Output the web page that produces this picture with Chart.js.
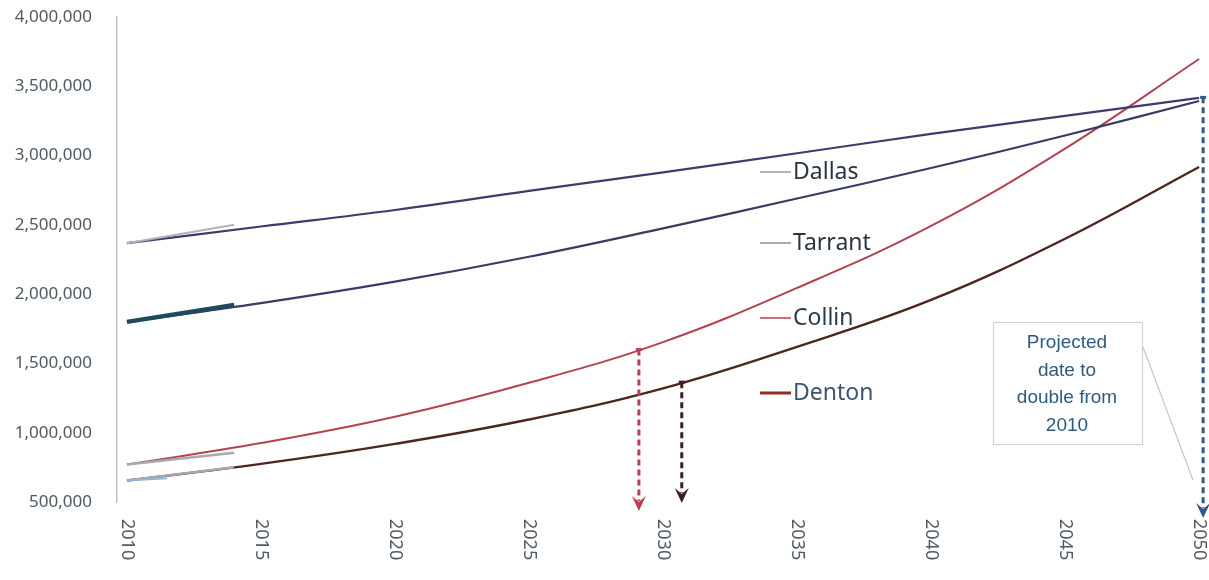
<!DOCTYPE html>
<html>
<head>
<meta charset="utf-8">
<script src="https://cdn.jsdelivr.net/npm/chart.js@4/dist/chart.umd.min.js"></script>
<style>
  html, body { margin: 0; padding: 0; background: #fff; }
  #wrap { width: 1209px; height: 580px; position: relative; }
</style>
</head>
<body>
<div id="wrap"><canvas id="myChart" width="1209" height="580"></canvas></div>
<script>
// projection years (x axis ticks)
const years = [2010, 2015, 2020, 2025, 2030, 2035, 2040, 2045, 2050]

// county projections
const dallas  = [2368000, 2488000, 2607000, 2745000, 2879000, 3017000, 3156000, 3286000, 3416000]
const tarrant = [1800000, 1935000, 2090000, 2270000, 2475000, 2690000, 2910000, 3145000, 3394000]
const collin  = [770000, 925000, 1115000, 1360000, 1654000, 2045000, 2492000, 3050000, 3697000]
const denton  = [655000, 775000, 919000, 1095000, 1320000, 1620000, 1958000, 2400000, 2918000]

// short estimate lines at the start
const histYears = [2010, 2014]
const dallasHist  = [2368000, 2500000]
const tarrantHist = [1800000, 1922000]
const collinHist  = [770000, 855000]
const dentonHist  = [655000, 750000]
const dentonEarlyYears = [2010, 2011.5]
const dentonEarly = [655000, 672000]

// y axis ticks
const yTicks = [500000, 1000000, 1500000, 2000000, 2500000, 3000000, 3500000, 4000000]

// year each county doubles, with the value where the arrow starts
const doubleMarks = [
    { year: 2029.1, from: 1600000, color: '#b5404f' },
    { year: 2030.7, from: 1365000, color: '#3b1e22' },
    { year: 2050.15, from: 3420000, color: '#2b5b86' }
]

const labelNames = ['Dallas', 'Tarrant', 'Collin', 'Denton']
const boxLines = ['Projected', 'date to', 'double from', '2010']

function pts(xs, ys) {
    return xs.map((x, i) => ({ x: x, y: ys[i] }))
}

function arrow(ctx, x, y0, y1, color) {
    ctx.save()
    ctx.strokeStyle = color
    ctx.fillStyle = color
    ctx.lineWidth = 3
    // little tee on the line
    ctx.beginPath()
    ctx.moveTo(x - 3, y0)
    ctx.lineTo(x + 3, y0)
    ctx.stroke()
    ctx.setLineDash([6, 4])
    ctx.beginPath()
    ctx.moveTo(x, y0)
    ctx.lineTo(x, y1 - 10)
    ctx.stroke()
    ctx.setLineDash([])
    ctx.beginPath()
    ctx.moveTo(x, y1)
    ctx.lineTo(x - 7, y1 - 15)
    ctx.lineTo(x, y1 - 9)
    ctx.lineTo(x + 7, y1 - 15)
    ctx.closePath()
    ctx.fill()
    ctx.restore()
}

// rotated year labels, inline labels, arrows and the note box
const extras = {
    id: 'extras',
    afterDraw(chart) {
        const ctx = chart.ctx
        const xs = chart.scales.x
        const ys = chart.scales.y

        ctx.save()
        ctx.fillStyle = '#4f5a64'
        ctx.font = '18px "Noto Sans"'
        ctx.textAlign = 'left'
        ctx.textBaseline = 'middle'
        years.forEach(yr => {
            const px = xs.getPixelForValue(yr)
            ctx.save()
            ctx.translate(px, 519)
            ctx.rotate(Math.PI / 2)
            ctx.fillText(String(yr), 0, 0)
            ctx.restore()
        })
        ctx.restore()

        // inline series labels
        const lab = [
            { y: 172, line: '#9a9a9e', text: '#2b3542', w: 1.5 },
            { y: 243, line: '#8e8e94', text: '#2b3542', w: 1.5 },
            { y: 318, line: '#d0707e', text: '#2b3a4c', w: 2 },
            { y: 393, line: '#8e2b22', text: '#3b5570', w: 3 }
        ]
        ctx.save()
        ctx.font = '23px "Noto Sans"'
        ctx.textBaseline = 'middle'
        ctx.textAlign = 'left'
        lab.forEach((l, i) => {
            ctx.strokeStyle = l.line
            ctx.lineWidth = l.w
            ctx.beginPath()
            ctx.moveTo(760, l.y)
            ctx.lineTo(791, l.y)
            ctx.stroke()
            ctx.fillStyle = l.text
            ctx.fillText(labelNames[i], 793, l.y)
        })
        ctx.restore()

        // doubling arrows
        doubleMarks.forEach(m => {
            const x = xs.getPixelForValue(m.year)
            const y0 = ys.getPixelForValue(m.from)
            const y1 = m.year > 2049 ? 518 : (m.year < 2030 ? 511 : 503)
            arrow(ctx, x, y0, y1, m.color)
        })

        // note box with leader line
        ctx.save()
        ctx.strokeStyle = '#c4c8cc'
        ctx.lineWidth = 1.2
        ctx.beginPath()
        ctx.moveTo(1143, 347)
        ctx.lineTo(1193, 480)
        ctx.stroke()
        ctx.fillStyle = '#ffffff'
        ctx.fillRect(993, 322, 149, 122)
        ctx.strokeStyle = '#cfd3d6'
        ctx.strokeRect(993.5, 322.5, 149, 122)
        ctx.fillStyle = '#2f5a80'
        ctx.font = '19px "Liberation Sans"'
        ctx.textAlign = 'center'
        ctx.textBaseline = 'middle'
        boxLines.forEach((t, i) => {
            ctx.fillText(t, 1067, 343 + i * 27.6)
        })
        ctx.restore()
    }
}

const ctx = document.getElementById('myChart').getContext('2d')
const mychart = new Chart(ctx, {
    type: 'line',
    data: {
        datasets: [
            { data: pts(dentonEarlyYears, dentonEarly), borderColor: '#8fb8d6', borderWidth: 2 },
            { data: pts(histYears, dallasHist), borderColor: '#b4b4b8', borderWidth: 2 },
            { data: pts(histYears, tarrantHist), borderColor: '#1f4a5e', borderWidth: 4.5 },
            { data: pts(histYears, collinHist), borderColor: '#a9a9b0', borderWidth: 2.5 },
            { data: pts(histYears, dentonHist), borderColor: '#a8a8ac', borderWidth: 2.5 },
            { data: pts(years, dallas), borderColor: '#3e3c6c', borderWidth: 2.2, tension: 0.4 },
            { data: pts(years, tarrant), borderColor: '#3b3b66', borderWidth: 2.2, tension: 0.4 },
            { data: pts(years, collin), borderColor: '#b3434f', borderWidth: 2, tension: 0.4 },
            { data: pts(years, denton), borderColor: '#4e2620', borderWidth: 2.4, tension: 0.4 }
        ]
    },
    options: {
        responsive: false,
        animation: false,
        layout: { padding: { top: 17, right: 4, left: 0, bottom: 0 } },
        elements: { point: { radius: 0 } },
        plugins: { legend: { display: false }, tooltip: { enabled: false } },
        scales: {
            x: {
                type: 'linear',
                min: 2009.63,
                max: 2050.22,
                grid: { display: false },
                border: { display: false },
                ticks: { display: false },
                afterBuildTicks: s => { s.ticks = years.map(v => ({ value: v })) },
                afterFit: s => { s.height = 78 }
            },
            y: {
                min: 500000,
                max: 4000000,
                grid: { display: false },
                border: { display: true, color: '#b7c4c9', width: 1.5 },
                afterBuildTicks: s => { s.ticks = yTicks.map(v => ({ value: v })) },
                afterFit: s => {
                    s.width = 117
                    s.paddingTop = 0
                    s.paddingBottom = 0
                },
                ticks: {
                    padding: 17,
                    color: '#4f5a64',
                    font: { family: 'Noto Sans', size: 17 },
                    callback: v => v.toLocaleString('en-US')
                }
            }
        }
    },
    plugins: [extras]
})
</script>
</body>
</html>
